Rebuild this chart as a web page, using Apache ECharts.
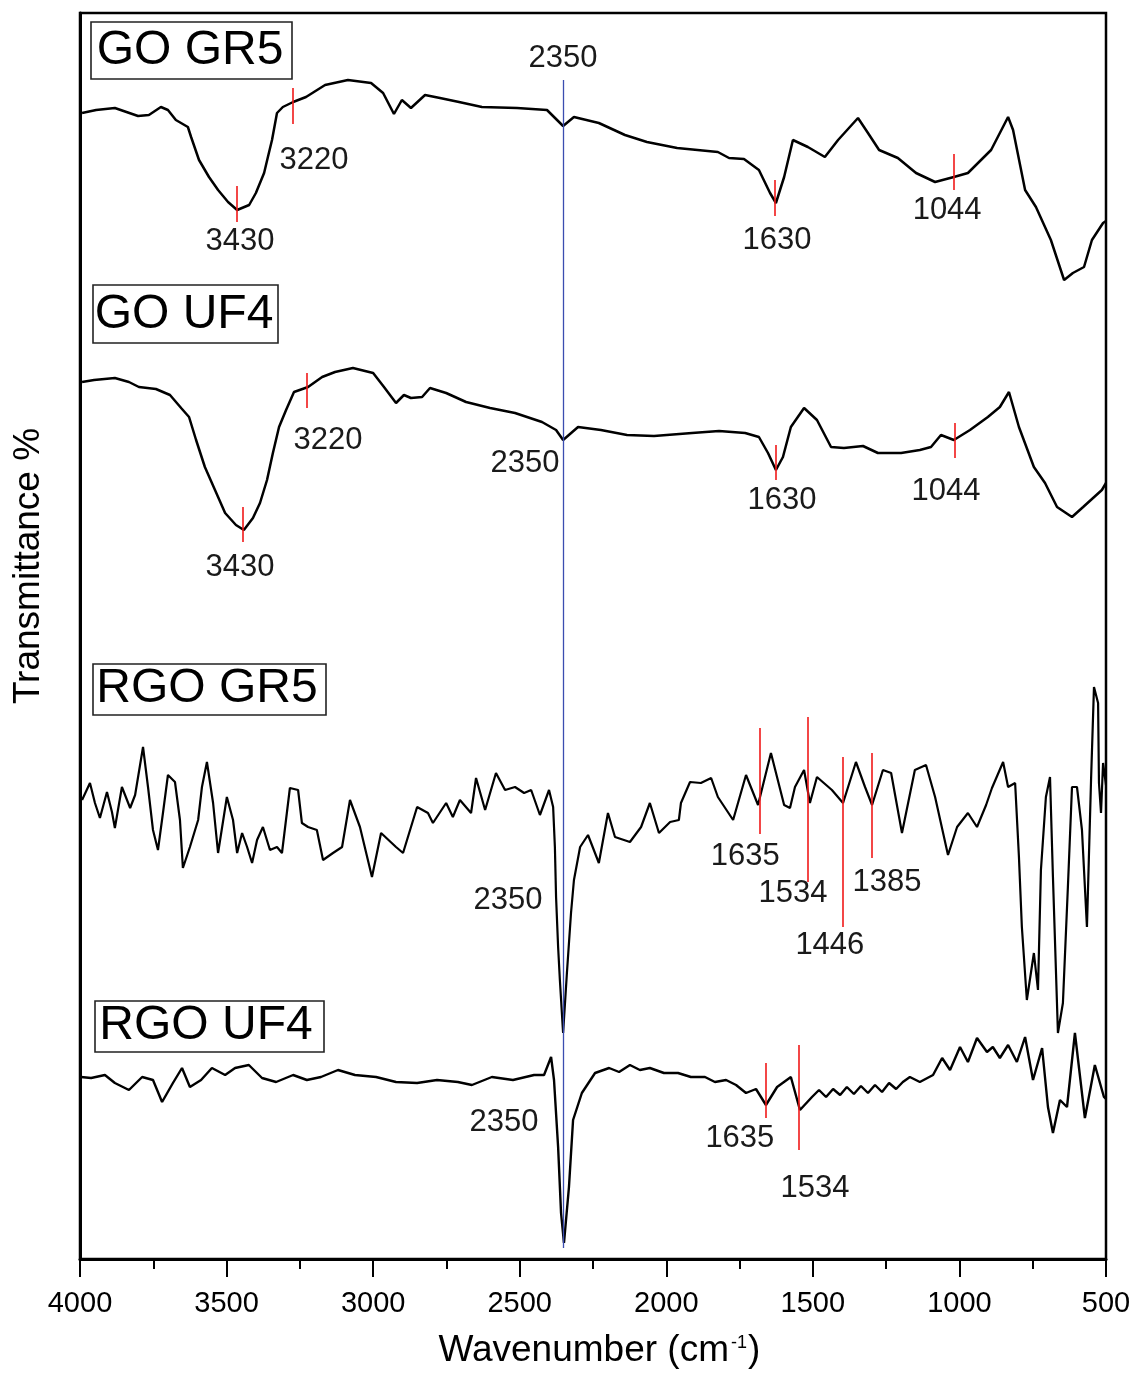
<!DOCTYPE html>
<html><head><meta charset="utf-8">
<script src="https://cdn.jsdelivr.net/npm/echarts/dist/echarts.min.js"></script>
<style>html,body{margin:0;padding:0;background:#fff}#c{width:1136px;height:1374px}</style>
</head><body><div id="c"></div>
<script>
// Wavenumber (cm-1) vs transmittance (arbitrary offset units)
const goGR5 = [[3993,1146],[3945,1149],[3881,1151],[3802,1143],[3765,1144],[3724,1152],[3700,1149],[3673,1139],[3632,1132],[3621,1122],[3594,1099],[3560,1082],[3529,1069],[3495,1057],[3464,1049],[3423,1054],[3400,1066],[3372,1086],[3359,1102],[3345,1119],[3328,1146],[3308,1152],[3273,1157],[3229,1162],[3164,1174],[3086,1179],[3007,1176],[2966,1166],[2929,1145],[2902,1159],[2871,1151],[2823,1164],[2772,1161],[2707,1157],[2629,1152],[2509,1151],[2407,1149],[2352,1133],[2315,1142],[2230,1136],[2141,1124],[2066,1117],[1963,1111],[1824,1107],[1786,1101],[1735,1100],[1684,1089],[1646,1066],[1626,1056],[1598,1082],[1568,1119],[1517,1112],[1459,1102],[1414,1119],[1346,1141],[1312,1126],[1274,1109],[1210,1101],[1148,1086],[1083,1077],[1019,1082],[971,1086],[892,1109],[834,1142],[817,1129],[776,1069],[739,1052],[688,1019],[643,979],[613,986],[575,992],[548,1019],[510,1036],[500,1038]];
const goUF4 = [[3993,877],[3952,879],[3881,881],[3833,877],[3799,872],[3741,870],[3693,864],[3655,851],[3628,842],[3604,819],[3574,792],[3550,776],[3529,762],[3505,746],[3468,734],[3441,729],[3410,741],[3386,756],[3362,779],[3342,806],[3321,832],[3297,849],[3270,867],[3222,872],[3174,882],[3130,887],[3069,891],[3000,886],[2963,872],[2922,856],[2895,864],[2871,861],[2833,862],[2806,871],[2751,866],[2683,857],[2601,851],[2516,846],[2424,837],[2376,829],[2352,819],[2301,832],[2223,829],[2134,824],[2042,823],[1912,826],[1820,828],[1731,826],[1684,822],[1653,806],[1626,789],[1602,802],[1575,832],[1530,851],[1486,839],[1438,812],[1394,811],[1329,813],[1278,806],[1199,806],[1135,809],[1097,812],[1063,824],[1019,819],[964,829],[903,842],[862,852],[831,867],[797,832],[746,792],[708,776],[667,752],[616,742],[578,752],[514,769],[500,776]];
const rgoGR5 = [[3993,459],[3966,476],[3949,456],[3932,441],[3908,467],[3891,447],[3881,431],[3857,472],[3829,451],[3812,464],[3785,512],[3768,472],[3751,429],[3734,409],[3717,446],[3700,484],[3676,477],[3659,439],[3649,391],[3625,412],[3597,439],[3584,472],[3567,497],[3546,456],[3529,406],[3499,462],[3478,439],[3464,406],[3447,426],[3430,412],[3413,396],[3396,419],[3376,432],[3352,409],[3328,412],[3311,406],[3284,471],[3256,469],[3243,436],[3222,432],[3192,429],[3171,399],[3137,406],[3106,412],[3079,459],[3045,432],[3004,382],[2973,426],[2922,412],[2898,406],[2850,452],[2813,446],[2796,436],[2751,456],[2728,442],[2704,459],[2666,446],[2649,481],[2618,449],[2581,486],[2550,469],[2516,472],[2485,466],[2461,469],[2431,444],[2400,469],[2386,452],[2380,412],[2376,362],[2369,312],[2363,279],[2352,226],[2339,286],[2325,346],[2315,379],[2294,412],[2267,424],[2230,396],[2199,446],[2175,422],[2124,417],[2086,432],[2056,456],[2025,426],[1987,437],[1957,439],[1950,456],[1919,477],[1882,476],[1847,481],[1824,462],[1772,439],[1728,484],[1687,454],[1643,506],[1598,454],[1578,451],[1561,472],[1530,489],[1510,456],[1486,482],[1435,469],[1397,456],[1353,497],[1322,472],[1298,454],[1261,489],[1233,486],[1196,426],[1152,489],[1114,494],[1083,462],[1039,404],[1008,432],[971,446],[940,432],[909,454],[889,471],[851,497],[834,472],[810,476],[797,402],[787,332],[770,259],[746,306],[732,269],[722,389],[705,462],[691,482],[681,382],[664,226],[647,256],[630,372],[616,472],[599,472],[582,429],[565,332],[551,479],[541,572],[527,556],[524,476],[517,446],[510,496],[500,474]];
const rgoUF4 = [[3997,182],[3962,181],[3915,184],[3881,176],[3833,169],[3788,182],[3751,179],[3720,157],[3683,176],[3652,191],[3625,172],[3587,179],[3550,191],[3505,184],[3471,191],[3424,194],[3379,181],[3331,177],[3273,184],[3226,179],[3178,182],[3120,189],[3062,184],[2990,182],[2922,177],[2850,176],[2782,179],[2711,177],[2663,174],[2595,182],[2523,179],[2451,184],[2417,184],[2393,202],[2383,179],[2369,112],[2359,46],[2349,16],[2332,72],[2318,139],[2288,166],[2243,186],[2195,191],[2161,187],[2124,194],[2090,189],[2056,191],[2008,186],[1960,186],[1916,182],[1868,182],[1834,177],[1796,179],[1762,174],[1728,166],[1694,170],[1660,154],[1622,172],[1575,182],[1544,149],[1503,162],[1479,169],[1455,162],[1431,170],[1407,164],[1384,172],[1360,165],[1336,173],[1312,166],[1288,174],[1264,167],[1240,176],[1216,170],[1193,177],[1169,182],[1135,177],[1090,184],[1059,201],[1032,189],[998,212],[971,197],[940,221],[906,207],[886,212],[862,201],[834,214],[804,197],[776,222],[749,179],[718,211],[698,152],[681,126],[657,159],[633,152],[606,226],[572,141],[538,194],[507,162],[500,160]];

const xTicks = [4000,3500,3000,2500,2000,1500,1000,500];
const sampleNames = ['GO GR5','GO UF4','RGO GR5','RGO UF4'];

// peak marker ticks: [wavenumber position, y from, y to]
const ticksGOGR5 = [[3464,1073,1037],[3273,1171,1135],[1629,1079,1043],[1019,1105,1069]];
const ticksGOUF4 = [[3446,752,717],[3226,886,851],[1626,814,779],[1015,836,801]];
const ticksRGOGR5 = [[1680,531,425],[1517,542,377],[1397,502,332],[1298,506,401]];
const ticksRGOUF4 = [[1660,196,141],[1547,214,109]];
const co2Line = [2350,1179,11];

// peak labels: [wavenumber, y, text]
const peakLabels = [
  [3454,1018,'3430'],[3202,1099,'3220'],[2352,1201,'2350'],[1622,1019,'1630'],[1042,1049,'1044'],
  [3454,692,'3430'],[3154,819,'3220'],[2482,796,'2350'],[1605,759,'1630'],[1046,768,'1044'],
  [1731,403,'1635'],[1568,366,'1534'],[1442,314,'1446'],[1247,377,'1385'],[2540,359,'2350'],
  [1749,121,'1635'],[1493,71,'1534'],[2554,137,'2350']
];

const FONT = '"Liberation Sans", Arial, sans-serif';
function tickML(arr){
  return {symbol:'none', silent:true, animation:false,
    lineStyle:{color:'#f01818', width:1.6, type:'solid', opacity:1}, label:{show:false},
    data: arr.map(t => [{coord:[t[0],t[1]]},{coord:[t[0],t[2]]}])};
}
function lineSeries(name, data, ticks, extra){
  const s = {name, type:'line', data, showSymbol:false, symbol:'none', animation:false,
    lineStyle:{color:'#000', width:2.5}, z:3, markLine: tickML(ticks)};
  return Object.assign(s, extra||{});
}

const chart = echarts.init(document.getElementById('c'), null, {renderer:'canvas'});
const series = [
  {name:'CO2', type:'line', data:[], markLine:{symbol:'none', silent:true, animation:false,
    lineStyle:{color:'#3b4db0', width:1.3, type:'solid', opacity:1}, label:{show:false},
    data:[[{coord:[co2Line[0],co2Line[1]]},{coord:[co2Line[0],co2Line[2]]}]]}, z:2},
  lineSeries(sampleNames[0], goGR5, ticksGOGR5),
  lineSeries(sampleNames[1], goUF4, ticksGOUF4),
  lineSeries(sampleNames[2], rgoGR5, ticksRGOGR5, {lineStyle:{color:'#000', width:2.2}}),
  lineSeries(sampleNames[3], rgoUF4, ticksRGOUF4, {lineStyle:{color:'#000', width:2.4}}),
  {name:'labels', type:'scatter', data: peakLabels, symbolSize:1, animation:false,
    itemStyle:{color:'rgba(0,0,0,0)', opacity:1}, z:5,
    label:{show:true, position:'inside', formatter:p=>p.data[2], fontSize:31, color:'#1a1a1a', opacity:1, fontFamily:FONT}}
];

function box(x,y,w,h,text,cx,cy){
  return [
    {type:'rect', shape:{x,y,width:w,height:h}, style:{fill:'#fff', stroke:'#222', lineWidth:1.6}, z:10},
    {type:'text', x:cx, y:cy, style:{text, font:'48px '+FONT, fill:'#000', align:'center', verticalAlign:'middle'}, z:11}
  ];
}

chart.setOption({
  backgroundColor:'#fff',
  animation:false,
  grid:{left:80, right:30, top:13, bottom:115, show:true, borderColor:'#000', borderWidth:2.5, outerBoundsMode:'none', containLabel:false},
  xAxis:{type:'value', inverse:true, min:500, max:4000, interval:500,
    axisLine:{show:true, onZero:false, lineStyle:{color:'#000', width:3}},
    axisTick:{show:true, length:18, lineStyle:{color:'#000', width:2}},
    minorTick:{show:true, splitNumber:2, length:10, lineStyle:{color:'#000', width:2}},
    splitLine:{show:false},
    axisLabel:{fontSize:29, color:'#000', fontFamily:FONT, margin:30,
      formatter:v => xTicks.includes(v) ? String(v) : ''}},
  yAxis:{type:'value', min:0, max:1246,
    axisLine:{show:true, lineStyle:{color:'#000', width:3}},
    axisTick:{show:false}, axisLabel:{show:false}, splitLine:{show:false}},
  series,
  graphic:[
    ...box(91,22,201,57,sampleNames[0],190,51),
    ...box(93,285,185,58,sampleNames[1],184,315),
    ...box(93,664,233,51,sampleNames[2],207,689),
    ...box(95,1001,229,51,sampleNames[3],206,1026),
    {type:'text', x:29, y:566, rotation:Math.PI/2, style:{text:'Transmittance %', font:'37px '+FONT, fill:'#000', align:'center', verticalAlign:'middle'}},
    {type:'text', x:729, y:1351, style:{text:'Wavenumber (cm', font:'37px '+FONT, fill:'#000', align:'right', verticalAlign:'middle'}},
    {type:'text', x:731, y:1343, style:{text:'-1', font:'18px '+FONT, fill:'#000', align:'left', verticalAlign:'middle'}},
    {type:'text', x:748, y:1351, style:{text:')', font:'37px '+FONT, fill:'#000', align:'left', verticalAlign:'middle'}}
  ]
});
</script></body></html>
